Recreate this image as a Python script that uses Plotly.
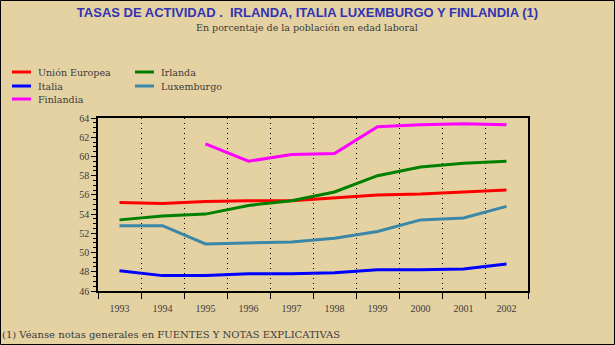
import plotly.graph_objects as go

years = ['1993', '1994', '1995', '1996', '1997', '1998', '1999', '2000', '2001', '2002']
ue = [55.2, 55.1, 55.3, 55.4, 55.4, 55.7, 56.0, 56.1, 56.3, 56.5]
irlanda = [53.4, 53.8, 54.0, 54.9, 55.4, 56.3, 58.0, 58.9, 59.3, 59.5]
italia = [48.1, 47.6, 47.6, 47.8, 47.8, 47.9, 48.2, 48.2, 48.3, 48.8]
luxemburgo = [52.8, 52.8, 50.9, 51.0, 51.1, 51.5, 52.2, 53.4, 53.6, 54.8]
finlandia = [None, None, 61.3, 59.5, 60.2, 60.3, 63.1, 63.3, 63.4, 63.3]

series = [
    ('Unión Europea', ue, '#FF0000'),
    ('Irlanda', irlanda, '#008000'),
    ('Italia', italia, '#0000FF'),
    ('Luxemburgo', luxemburgo, '#3A87A8'),
    ('Finlandia', finlandia, '#FF00FF'),
]

bg = '#E5D2A3'
serif = 'DejaVu Serif'
txt = '#3a3a3a'

fig = go.Figure()
for name, vals, col in series:
    fig.add_trace(go.Scatter(x=years, y=vals, name=name, mode='lines',
                             line=dict(color=col, width=3), showlegend=False))

# plot area: x 98..528, y 118..291 px
pw, ph = 430.0, 173.0
def px(x):
    return (x - 98) / pw
def py(y):
    return (291 - y) / ph

# legend drawn by hand, two columns like the original
leg_pos = {'Unión Europea': (12, 72), 'Italia': (12, 86), 'Finlandia': (12, 99),
           'Irlanda': (135, 72), 'Luxemburgo': (135, 86)}
shapes = [dict(type='rect', xref='paper', yref='paper', x0=px(0.5), x1=px(614.5),
               y0=py(344.5), y1=py(0.5), line=dict(color='black', width=1))]
annotations = [
    dict(text='En porcentaje de la población en edad laboral', xref='paper', yref='paper',
         x=px(307), y=py(28), showarrow=False, xanchor='center', yanchor='middle',
         font=dict(family=serif, size=9.5, color=txt)),
    dict(text='(1) Véanse notas generales en FUENTES Y NOTAS EXPLICATIVAS', xref='paper',
         yref='paper', x=px(0), y=py(334), showarrow=False, xanchor='left', yanchor='middle',
         font=dict(family=serif, size=10, color=txt)),
]
for name, vals, col in series:
    lx, ly = leg_pos[name]
    shapes.append(dict(type='line', xref='paper', yref='paper', x0=px(lx), x1=px(lx + 19),
                       y0=py(ly), y1=py(ly), line=dict(color=col, width=3)))
    annotations.append(dict(text=name, xref='paper', yref='paper', x=px(lx + 24), y=py(ly),
                            showarrow=False, xanchor='left', yanchor='middle',
                            font=dict(family=serif, size=9.5, color=txt)))

fig.update_layout(
    width=615, height=345,
    margin=dict(l=98, r=87, t=118, b=54),
    paper_bgcolor=bg, plot_bgcolor=bg,
    showlegend=False,
    title=dict(text='TASAS DE ACTIVIDAD .  IRLANDA, ITALIA LUXEMBURGO Y FINLANDIA (1)',
               x=0.5, xanchor='center', y=1 - 12 / 345, yanchor='middle',
               font=dict(family='Liberation Sans', size=13, color='#3232B4', weight='bold')),
    xaxis=dict(type='category', range=[-0.5, 9.5], tickson='boundaries', ticks='outside',
               ticklen=6, tickcolor='black', showline=True, linecolor='black', linewidth=1.5,
               mirror=True, showgrid=True, gridcolor='black', gridwidth=1, griddash='1px,4px',
               tickfont=dict(family='Liberation Serif', size=10, color=txt), ticklabelstandoff=7,
               zeroline=False, fixedrange=True),
    yaxis=dict(range=[46, 64], dtick=2, ticks='outside', ticklen=5, tickcolor='black',
               minor=dict(dtick=0.5, ticks='outside', ticklen=3, tickcolor='black', showgrid=False),
               showline=True, linecolor='black', linewidth=1.5, mirror=True,
               showgrid=False, zeroline=False, fixedrange=True,
               tickfont=dict(family='Liberation Serif', size=10, color=txt)),
    annotations=annotations,
    shapes=shapes,
)

fig.write_html('out.html', config={'displayModeBar': False},
               post_script="document.body.style.margin='0';")
